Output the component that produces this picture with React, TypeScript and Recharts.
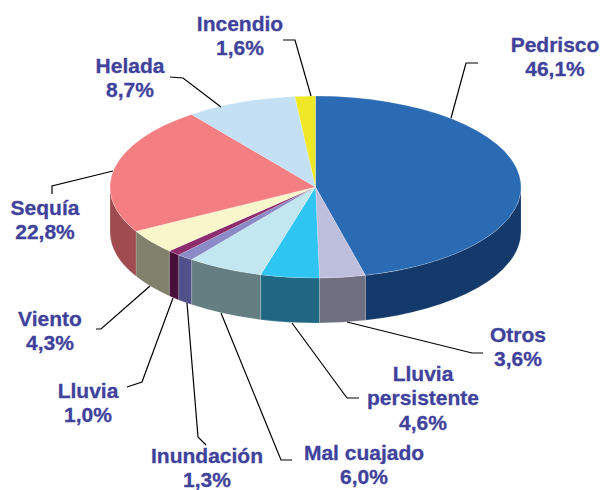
import { PieChart, Pie, Cell } from 'recharts';

const categories = ['Pedrisco', 'Otros', 'Lluvia\npersistente', 'Mal cuajado', 'Inundación', 'Lluvia', 'Viento', 'Sequía', 'Helada', 'Incendio'];
const shares = [46.1, 3.6, 4.6, 6.0, 1.3, 1.0, 4.3, 22.8, 8.7, 1.6];
const topColors = ['#2B6BB3', '#BEBEDD', '#2FC5F2', '#C3E7F1', '#8A8AC6', '#8E2D6E', '#FAF6CB', '#F47F82', '#C3E0F4', '#EFE829'];
const wallColors = ['#14396B', '#6F6F82', '#1F6782', '#647E82', '#50508A', '#480F38', '#7F816A', '#A04B4F', '#C3E0F4', '#EFE829'];

const data = categories.map((name, i) => ({ name, value: shares[i] }));

// label placement: centre x, first baseline, leader line points
const labelLayout = [
  { x: 555, y: 52, line: '478,63 466,63 451,118' },
  { x: 518, y: 342, line: '483,353 472,353 347,322' },
  { x: 423, y: 381, line: '359,398 347,398 292,323' },
  { x: 364, y: 460, line: '292,460 281,460 221,313' },
  { x: 207, y: 463, line: '206,445 198,437 187,303' },
  { x: 88, y: 398, line: '127,387 142,382 173,298' },
  { x: 50, y: 326, line: '96,329 101,329 150,286' },
  { x: 45, y: 215, line: '52,194 52,186 113,171' },
  { x: 130, y: 73, line: '170,77 183,78 221,107' },
  { x: 240, y: 31, line: '283,40 295,40 311,96' },
];

const CX = 315.5;
const CY = 187;
const RX = 205.5;
const RY = 91;
const DEPTH = 45;

const rad = (deg: number) => (deg * Math.PI) / 180;
const px = (deg: number) => CX + RX * Math.cos(rad(deg));
const py = (deg: number) => CY - RY * Math.sin(rad(deg));

// flattened slice plus its side wall, the wall only on the front half
const Slice3D = (props: any) => {
  const { startAngle, endAngle, fill, index } = props;
  const large = startAngle - endAngle > 180 ? 1 : 0;
  const top = `M${CX},${CY} L${px(startAngle)},${py(startAngle)} A${RX},${RY} 0 ${large} 1 ${px(endAngle)},${py(endAngle)} Z`;
  const hi = Math.min(startAngle, 0);
  const lo = Math.max(endAngle, -180);
  let wall = null;
  if (hi > lo) {
    const d = `M${px(hi)},${py(hi)} A${RX},${RY} 0 0 1 ${px(lo)},${py(lo)} L${px(lo)},${py(lo) + DEPTH} A${RX},${RY} 0 0 0 ${px(hi)},${py(hi) + DEPTH} Z`;
    wall = <path d={d} fill={wallColors[index]} stroke="#ffffff" strokeOpacity={0.35} strokeWidth={0.5} />;
  }
  return (
    <g>
      {wall}
      <path d={top} fill={fill} stroke="#ffffff" strokeOpacity={0.35} strokeWidth={0.5} />
    </g>
  );
};

const SliceLabel = (props: any) => {
  const { index, value, name } = props;
  const place = labelLayout[index];
  const rows = [...String(name).split('\n'), `${value.toFixed(1).replace('.', ',')}%`];
  return (
    <g>
      <polyline points={place.line} fill="none" stroke="#000000" strokeWidth={1.2} />
      <text x={place.x} y={place.y} textAnchor="middle" fontFamily="'Liberation Sans', Arial, sans-serif" fontWeight="bold" fontSize={21} fill="#3F429B" stroke="#3F429B" strokeWidth={0.3}>
        {rows.map((row, i) => (
          <tspan key={i} x={place.x} dy={i === 0 ? 0 : 24.4}>{row}</tspan>
        ))}
      </text>
    </g>
  );
};

export default function App() {
  return (
    <div style={{ position: 'absolute', left: 0, top: 0, width: 601, height: 490, background: '#fff' }}>
      <PieChart width={601} height={490} margin={{ top: 0, right: 0, bottom: 0, left: 0 }}>
        <Pie
          data={data}
          dataKey="value"
          nameKey="name"
          cx={CX}
          cy={CY}
          innerRadius={0}
          outerRadius={RX}
          startAngle={90}
          endAngle={-270}
          paddingAngle={0}
          isAnimationActive={false}
          shape={Slice3D}
          label={SliceLabel}
          labelLine={false}
        >
          {data.map((d, i) => (
            <Cell key={d.name} fill={topColors[i]} />
          ))}
        </Pie>
      </PieChart>
    </div>
  );
}
